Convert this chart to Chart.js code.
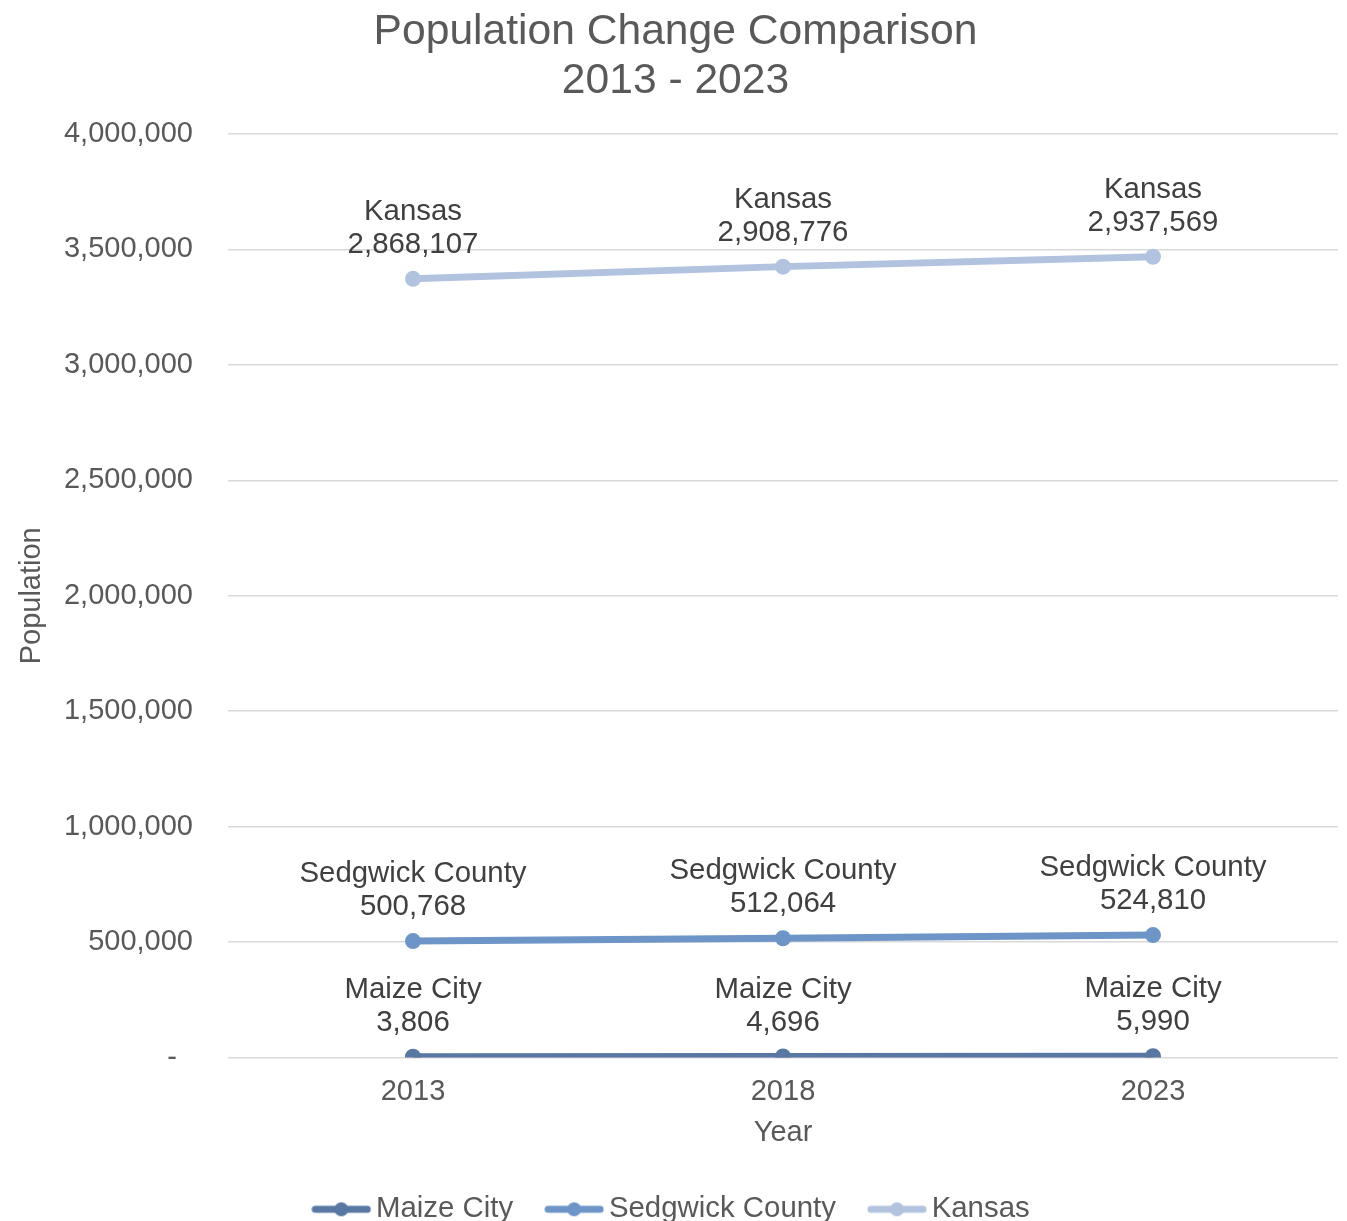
<!DOCTYPE html>
<html>
<head>
<meta charset="utf-8">
<title>Population Change Comparison</title>
<script src="https://cdn.jsdelivr.net/npm/chart.js@4.4.1/dist/chart.umd.min.js"></script>
<style>
  html, body { margin: 0; padding: 0; background: #fff; overflow: hidden; }
  #wrap { width: 1347px; height: 1234px; }
</style>
</head>
<body>
<div id="wrap"><canvas id="popChart"></canvas></div>
<script>
// Population by year
const years = ['2013', '2018', '2023'];
const maizeCity = [3806, 4696, 5990];
const sedgwickCounty = [500768, 512064, 524810];
const kansas = [2868107, 2908776, 2937569];

const seriesNames = ['Maize City', 'Sedgwick County', 'Kansas'];
const seriesColors = ['#5877a3', '#6d95c8', '#b2c3df'];

const FONT = '"Liberation Sans", Arial, sans-serif';
const fmt = v => v.toLocaleString('en-US');

// Little line-with-dot swatch for the legend
function legendSwatch(color) {
  const c = document.createElement('canvas');
  c.width = 60;
  c.height = 16;
  const g = c.getContext('2d');
  g.strokeStyle = color;
  g.lineWidth = 7;
  g.lineCap = 'round';
  g.beginPath();
  g.moveTo(4, 8);
  g.lineTo(56, 8);
  g.stroke();
  g.fillStyle = color;
  g.beginPath();
  g.arc(30, 8, 7, 0, Math.PI * 2);
  g.fill();
  return c;
}
const swatches = seriesColors.map(legendSwatch);

// Series name + value written above every point
const pointLabels = {
  id: 'pointLabels',
  afterDatasetsDraw(chart) {
    const ctx = chart.ctx;
    ctx.save();
    ctx.font = '29.4px ' + FONT;
    ctx.fillStyle = '#404040';
    ctx.textAlign = 'center';
    ctx.textBaseline = 'middle';
    chart.data.datasets.forEach((ds, i) => {
      chart.getDatasetMeta(i).data.forEach((pt, j) => {
        ctx.fillText(ds.label, pt.x, pt.y - 67);
        ctx.fillText(fmt(ds.data[j]), pt.x, pt.y - 34);
      });
    });
    ctx.restore();
  }
};

function makeDataset(label, values, color) {
  return {
    label: label,
    data: values,
    borderColor: color,
    backgroundColor: color,
    borderWidth: 7,
    pointRadius: 8,
    pointBorderWidth: 0,
    pointBackgroundColor: color,
    tension: 0,
    fill: false
  };
}

const ctx = document.getElementById('popChart').getContext('2d');
new Chart(ctx, {
  type: 'line',
  data: {
    labels: years,
    datasets: [
      makeDataset(seriesNames[0], maizeCity, seriesColors[0]),
      makeDataset(seriesNames[1], sedgwickCounty, seriesColors[1]),
      makeDataset(seriesNames[2], kansas, seriesColors[2])
    ]
  },
  plugins: [pointLabels],
  options: {
    responsive: true,
    maintainAspectRatio: false,
    animation: false,
    layout: {
      padding: { left: 13, right: 9, top: 0, bottom: 0 }
    },
    plugins: {
      title: {
        display: true,
        text: ['Population Change Comparison', '2013 - 2023'],
        color: '#595959',
        font: { family: FONT, size: 42.6, weight: 'normal', lineHeight: 1.15 },
        padding: { top: 8, bottom: 28 }
      },
      legend: {
        position: 'bottom',
        labels: {
          usePointStyle: true,
          pointStyleWidth: 40,
          padding: 41,
          color: '#595959',
          font: { family: FONT, size: 29.4 },
          generateLabels(chart) {
            const items = Chart.defaults.plugins.legend.labels.generateLabels(chart);
            items.forEach((it, i) => { it.pointStyle = swatches[i]; });
            return items;
          }
        }
      },
      tooltip: { enabled: false }
    },
    scales: {
      x: {
        offset: true,
        grid: { display: false, drawTicks: false },
        border: { display: false },
        ticks: {
          color: '#595959',
          padding: 17,
          font: { family: FONT, size: 29 }
        },
        title: {
          display: true,
          text: 'Year',
          color: '#595959',
          font: { family: FONT, size: 29 },
          padding: { top: 7, bottom: 3 }
        },
        afterFit(scale) { scale.height = 96; }
      },
      y: {
        stacked: true,
        min: 0,
        max: 4000000,
        grid: { color: '#d9d9d9', lineWidth: 1.5, drawTicks: false },
        border: { display: false },
        ticks: {
          stepSize: 500000,
          color: '#595959',
          padding: 35,
          font: { family: FONT, size: 29 },
          callback: v => v === 0 ? '-  ' : fmt(v)
        },
        title: {
          display: true,
          text: 'Population',
          color: '#595959',
          font: { family: FONT, size: 29 },
          padding: { top: 2, bottom: 14 }
        },
        afterFit(scale) { scale.width = 215; }
      }
    }
  }
});
</script>
</body>
</html>
